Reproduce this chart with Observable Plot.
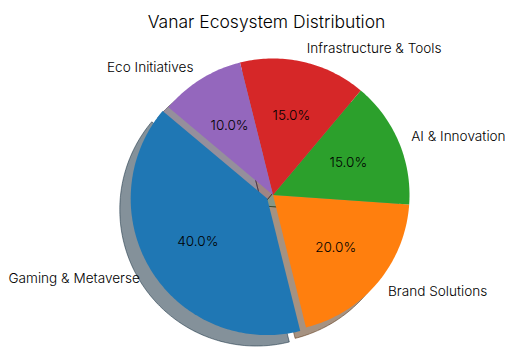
<!DOCTYPE html>
<html>
<head>
<meta charset="utf-8">
<script src="https://cdn.jsdelivr.net/npm/d3@7"></script>
<script src="https://cdn.jsdelivr.net/npm/@observablehq/plot@0.6"></script>
<style>
  html, body { margin: 0; padding: 0; background: #fff; }
  svg { display: block; }
</style>
</head>
<body>
<div id="chart"></div>
<script>
const categories = ["Gaming & Metaverse", "Brand Solutions", "AI & Innovation", "Infrastructure & Tools", "Eco Initiatives"];
const values = [40, 20, 15, 15, 10];
const colors = ["#1f77b4", "#ff7f0e", "#2ca02c", "#d62728", "#9467bd"];
const explode = [0.05, 0, 0, 0, 0];
const title = "Vanar Ecosystem Distribution";

const startAngle = 140;
const shadowOffset = [-0.08, -0.08];
const labelDistance = 1.1;
const pctDistance = 0.6;

// pixel geometry of the pie in the 512x358 frame
const W = 512, H = 358, CX = 272.5, CY = 194.5, R = 136.5;

const total = d3.sum(values);
const slices = [];
let a = startAngle;
categories.forEach((name, i) => {
  const span = values[i] / total * 360;
  const a0 = a, a1 = a + span, mid = (a0 + a1) / 2;
  const m = mid * Math.PI / 180;
  const ox = explode[i] * Math.cos(m), oy = explode[i] * Math.sin(m);
  const n = Math.max(2, Math.ceil(span));
  const pts = [[ox, oy]];
  for (let k = 0; k <= n; k++) {
    const t = (a0 + span * k / n) * Math.PI / 180;
    pts.push([ox + Math.cos(t), oy + Math.sin(t)]);
  }
  pts.push([ox, oy]);
  const c = d3.rgb(colors[i]);
  slices.push({
    name, value: values[i], color: colors[i], pts,
    shadowColor: d3.rgb(c.r * 0.3, c.g * 0.3, c.b * 0.3).formatHex(),
    lx: ox + labelDistance * Math.cos(m), ly: oy + labelDistance * Math.sin(m),
    px: ox + pctDistance * Math.cos(m), py: oy + pctDistance * Math.sin(m),
    pct: (values[i] / total * 100).toFixed(1) + "%"
  });
  a = a1;
});

const wedgePts = slices.flatMap(s => s.pts.map(p => ({name: s.name, color: s.color, x: p[0], y: p[1]})));
const shadowPts = slices.flatMap(s => s.pts.map(p => ({name: s.name, color: s.shadowColor, x: p[0] + shadowOffset[0], y: p[1] + shadowOffset[1]})));

const chart = Plot.plot({
  width: W, height: H, margin: 0,
  style: {fontFamily: "Inter, sans-serif", background: "white", color: "black"},
  x: {domain: [-CX / R, (W - CX) / R], axis: null},
  y: {domain: [(CY - H) / R, CY / R], axis: null},
  marks: [
    Plot.line(shadowPts, {x: "x", y: "y", z: "name", fill: "color", stroke: "color", fillOpacity: 0.5, strokeOpacity: 0.5, strokeWidth: 1, curve: "linear"}),
    Plot.line(wedgePts, {x: "x", y: "y", z: "name", fill: "color", stroke: null, curve: "linear"}),
    Plot.text(slices.filter(s => s.lx >= 0), {x: "lx", y: "ly", text: "name", textAnchor: "start", fontSize: 13.6, fontWeight: 300, fill: "black"}),
    Plot.text(slices.filter(s => s.lx < 0), {x: "lx", y: "ly", text: "name", textAnchor: "end", fontSize: 13.6, fontWeight: 300, fill: "black"}),
    Plot.text(slices, {x: "px", y: "py", text: "pct", fontSize: 13.6, fontWeight: 300, fill: "black"}),
    Plot.text([title], {frameAnchor: "top", dx: 10, dy: 15, fontSize: 17.5, fontWeight: 300, fill: "black"})
  ]
});
document.getElementById("chart").appendChild(chart);
</script>
</body>
</html>
